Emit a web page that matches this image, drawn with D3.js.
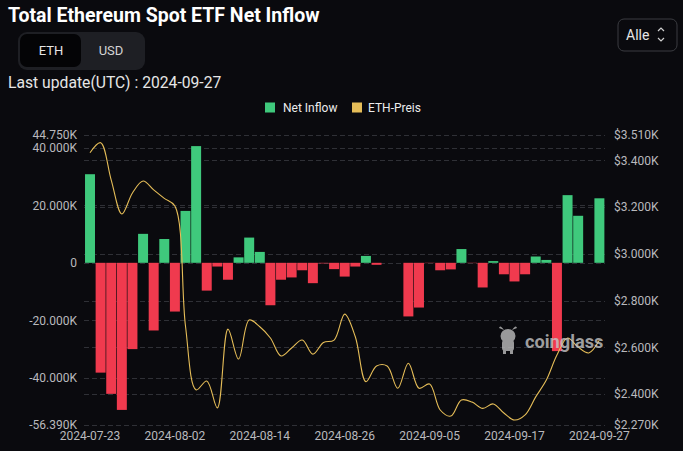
<!DOCTYPE html>
<html>
<head>
<meta charset="utf-8">
<script src="https://cdn.jsdelivr.net/npm/d3@7/dist/d3.min.js"></script>
<style>
  html, body { margin: 0; padding: 0; background: #0a0a0e; }
  svg { display: block; }
  text { font-family: Roboto, "Noto Sans", sans-serif; }
</style>
</head>
<body>
<svg id="chart" width="683" height="451"></svg>
<script>
const categories = ["2024-07-23","2024-07-24","2024-07-25","2024-07-26","2024-07-29","2024-07-30","2024-07-31","2024-08-01","2024-08-02","2024-08-05","2024-08-06","2024-08-07","2024-08-08","2024-08-09","2024-08-12","2024-08-13","2024-08-14","2024-08-15","2024-08-16","2024-08-19","2024-08-20","2024-08-21","2024-08-22","2024-08-23","2024-08-26","2024-08-27","2024-08-28","2024-08-29","2024-08-30","2024-09-02","2024-09-03","2024-09-04","2024-09-05","2024-09-06","2024-09-09","2024-09-10","2024-09-11","2024-09-12","2024-09-13","2024-09-16","2024-09-17","2024-09-18","2024-09-19","2024-09-20","2024-09-23","2024-09-24","2024-09-25","2024-09-26","2024-09-27"];
const netInflow = [30900,-38300,-45700,-51300,-30100,10100,-23600,8300,-17000,18100,40700,-9700,-1300,-5900,1900,8800,3800,-14800,-5900,-5100,-2600,-7100,-200,-2200,-4800,-1300,2400,-700,0,0,-18700,-15600,-100,-2600,-2300,4800,-100,-8600,600,-4000,-6500,-4000,2200,1000,-30800,23600,16400,0,22500];
const ethPrice = [3432,3475,3315,3170,3260,3311,3273,3237,3204,2690,2418,2456,2341,2678,2550,2717,2688,2640,2563,2597,2631,2571,2621,2631,2742,2645,2453,2520,2520,2425,2532,2425,2443,2332,2306,2375,2366,2339,2358,2319,2289,2311,2388,2460,2567,2640,2601,2576,2631];
const leftTicks = [-56390,-40000,-20000,0,20000,40000,44750];
const rightTicks = [2270,2400,2600,2800,3000,3200,3400,3510];
const xTickLabels = ["2024-07-23","2024-08-02","2024-08-14","2024-08-26","2024-09-05","2024-09-17","2024-09-27"];

const GREEN = "#3fc97c", RED = "#f03a4e", GOLD = "#e5bd58";
const svg = d3.select("#chart");
svg.append("rect").attr("width",683).attr("height",451).attr("fill","#0a0a0e");

// Header
svg.append("text").attr("x",8).attr("y",22).attr("fill","#ffffff")
  .attr("font-size",19.5).attr("font-weight",700).text("Total Ethereum Spot ETF Net Inflow");
svg.append("rect").attr("x",18).attr("y",32).attr("width",127).attr("height",38).attr("rx",9).attr("fill","#1e1f24");
svg.append("rect").attr("x",20).attr("y",34).attr("width",61).attr("height",33).attr("rx",7).attr("fill","#040406");
svg.append("text").attr("x",51).attr("y",50).attr("dominant-baseline","central").attr("text-anchor","middle")
  .attr("fill","#e6e6e6").attr("font-size",13).text("ETH");
svg.append("text").attr("x",111).attr("y",50).attr("dominant-baseline","central").attr("text-anchor","middle")
  .attr("fill","#d4d4d4").attr("font-size",13).text("USD");
svg.append("rect").attr("x",618).attr("y",19).attr("width",59).attr("height",32).attr("rx",6)
  .attr("fill","none").attr("stroke","#3a3b40");
svg.append("text").attr("x",626).attr("y",35).attr("dominant-baseline","central")
  .attr("fill","#e6e6e6").attr("font-size",14).text("Alle");
svg.append("path").attr("d","M658,31 L661,28 L664,31 M658,38 L661,41 L664,38")
  .attr("fill","none").attr("stroke","#cfcfcf").attr("stroke-width",1.2);
svg.append("text").attr("x",8).attr("y",88).attr("fill","#e6e6e6").attr("font-size",15.7)
  .text("Last update(UTC) : 2024-09-27");

// Legend
svg.append("rect").attr("x",265).attr("y",102.5).attr("width",10).attr("height",10).attr("fill",GREEN);
svg.append("text").attr("x",283).attr("y",107.5).attr("dominant-baseline","central").attr("fill","#ececec").attr("font-size",12).text("Net Inflow");
svg.append("rect").attr("x",352).attr("y",102.5).attr("width",10).attr("height",10).attr("fill",GOLD);
svg.append("text").attr("x",368).attr("y",107.5).attr("dominant-baseline","central").attr("fill","#ececec").attr("font-size",12).text("ETH-Preis");

// Scales
const x = d3.scaleBand().domain(categories).range([84.7,604.7]).paddingInner(0.06).paddingOuter(0.03);
const yL = d3.scaleLinear().domain([-56390,44750]).range([424.5,134.5]);
const yR = d3.scaleLinear().domain([2270,3510]).range([424.5,134.5]);

// Grid
const grid = svg.append("g");
const gridYs = leftTicks.map(v=>yL(v)).concat(rightTicks.map(v=>yR(v)));
grid.selectAll("line").data(gridYs).join("line")
  .attr("x1",84).attr("x2",605).attr("y1",d=>Math.round(d)+0.5).attr("y2",d=>Math.round(d)+0.5)
  .attr("stroke","#2f3036").attr("stroke-dasharray","5,3").attr("stroke-width",1);

// Axes
const fmtL = v => v===0 ? "0" : (v/1000).toFixed(3)+"K";
const fmtR = v => "$"+(v/1000).toFixed(3)+"K";
const axL = svg.append("g").attr("transform","translate(84,0)")
  .call(d3.axisLeft(yL).tickValues(leftTicks).tickFormat(fmtL).tickSize(0).tickPadding(7));
const axR = svg.append("g").attr("transform","translate(605,0)")
  .call(d3.axisRight(yR).tickValues(rightTicks).tickFormat(fmtR).tickSize(0).tickPadding(9));
const axX = svg.append("g").attr("transform","translate(0,424.5)")
  .call(d3.axisBottom(x).tickValues(xTickLabels).tickSize(0).tickPadding(7));
[axL,axR,axX].forEach(a=>{
  a.select(".domain").remove();
  a.selectAll("text").attr("fill","#b9b9bd").attr("font-size",12).attr("font-family","Roboto, sans-serif");
});

// Bars
svg.append("g").selectAll("rect").data(categories).join("rect")
  .attr("x",d=>x(d)).attr("width",x.bandwidth())
  .attr("y",(d,i)=>Math.min(yL(0),yL(netInflow[i])))
  .attr("height",(d,i)=>Math.abs(yL(netInflow[i])-yL(0)))
  .attr("fill",(d,i)=>netInflow[i]>=0?GREEN:RED);

// Price line
const line = d3.line()
  .x((d,i)=>x(categories[i])+x.bandwidth()/2)
  .y(d=>yR(d))
  .curve(d3.curveCatmullRom.alpha(0.5));
svg.append("path").datum(ethPrice).attr("d",line)
  .attr("fill","none").attr("stroke",GOLD).attr("stroke-width",1.1);

// Watermark
const wm = svg.append("g").attr("opacity",0.8);
wm.append("ellipse").attr("cx",508).attr("cy",336).attr("rx",7.5).attr("ry",7).attr("fill","#bdbdbd");
wm.append("path").attr("d","M499,328 Q500,324 504,330 Z M517,328 Q516,324 512,330 Z").attr("fill","#bdbdbd");
wm.append("rect").attr("x",502).attr("y",340).attr("width",12).attr("height",11).attr("rx",3).attr("fill","#bdbdbd");
wm.append("rect").attr("x",503).attr("y",349).attr("width",3).attr("height",5).attr("fill","#bdbdbd");
wm.append("rect").attr("x",510).attr("y",349).attr("width",3).attr("height",5).attr("fill","#bdbdbd");
wm.append("text").attr("x",525).attr("y",341).attr("dominant-baseline","central")
  .attr("fill","#c4c4c4").attr("font-size",18.2).attr("font-weight",700).text("coinglass");
</script>
</body>
</html>
